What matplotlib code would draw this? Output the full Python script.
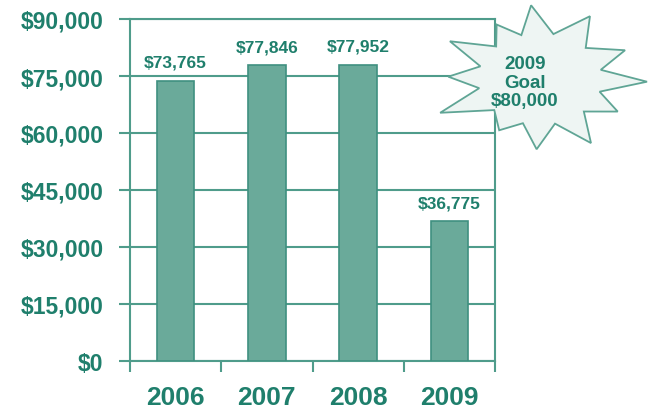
import matplotlib.pyplot as plt
import numpy as np
from matplotlib.patches import Polygon

years = ["2006", "2007", "2008", "2009"]
totals = [73765, 77846, 77952, 36775]
y_ticks = [0, 15000, 30000, 45000, 60000, 75000, 90000]
goal_text = "2009\nGoal\n$80,000"

teal = "#1f7f6c"
bar_fill = "#6aaa9a"
line_col = "#4f9c8b"

plt.rcParams["font.family"] = ["Liberation Sans", "DejaVu Sans"]

W, H = 652, 414
fig = plt.figure(figsize=(W / 100, H / 100), dpi=100)
ax = fig.add_axes([130 / W, 1 - 362 / H, 365 / W, 342 / H])

x = np.arange(len(years))
ax.bar(x, totals, width=0.41, color=bar_fill, edgecolor="#3f9080", linewidth=1.2, zorder=3)
for xi, v in zip(x, totals):
    ax.annotate(f"${v:,}", (xi, v), xytext=(0, 8), textcoords="offset points",
                ha="center", va="bottom", fontsize=12.5, fontweight="bold", color=teal)

ax.set_xlim(-0.5, len(years) - 0.5)
ax.set_ylim(0, 90000)
ax.set_yticks(y_ticks)
ax.set_yticklabels([f"${t:,}" for t in y_ticks], fontsize=16.5, fontweight="bold", color=teal)
ax.tick_params(axis="y", length=8, width=1.5, color=line_col, pad=11)
ax.yaxis.grid(True, color=line_col, linewidth=1.5, zorder=0)

ax.set_xticks(np.arange(-0.5, len(years)), minor=False)
ax.set_xticklabels([])
ax.set_xticks(x, minor=True)
ax.set_xticklabels(years, minor=True, fontsize=19, fontweight="bold", color=teal)
ax.tick_params(axis="x", which="major", length=8, width=1.5, color=line_col, direction="out")
ax.tick_params(axis="x", which="minor", length=0, pad=17)

for s in ax.spines.values():
    s.set_color(line_col)
    s.set_linewidth(1.5)

# starburst callout (pixel coordinates from the top-left corner)
cx, cy = 540, 80
outer = [1.0, 0.85, 1.02, 0.9, 1.08, 0.8, 0.95, 1.0, 0.88, 1.05, 0.92, 0.98]
angles = [95, 120, 150, 178, 205, 240, 268, 300, 330, 358, 25, 60]
pts = []
for i, (r, a) in enumerate(zip(outer, angles)):
    t = np.deg2rad(a)
    pts.append(((cx + 102 * r * np.cos(t)) / W, 1 - (cy - 74 * r * np.sin(t)) / H))
    nxt = angles[(i + 1) % len(angles)]
    if nxt < a:
        nxt += 360
    t2 = np.deg2rad((a + nxt) / 2)
    pts.append(((cx + 62 * np.cos(t2)) / W, 1 - (cy - 46 * np.sin(t2)) / H))
fig.patches.append(Polygon(pts, closed=True, transform=fig.transFigure,
                           facecolor="#eef5f3", edgecolor="#5fa595", linewidth=1.3, zorder=5))
fig.text(525 / W, 1 - 83 / H, goal_text, ha="center", va="center", fontsize=13.5, fontweight="bold",
         color=teal, linespacing=1.1, zorder=6)

fig.savefig("out.png", dpi=100)
